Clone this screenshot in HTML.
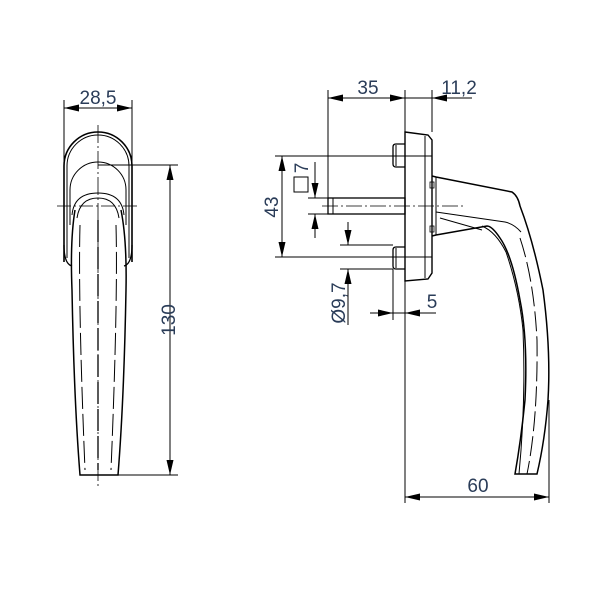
<!DOCTYPE html>
<html><head><meta charset="utf-8"><style>
html,body{margin:0;padding:0;background:#fff;}
svg{display:block;}
text{font-family:"Liberation Sans",sans-serif;font-size:19px;fill:#2a3c58;}
</style></head><body>
<svg width="600" height="600" viewBox="0 0 600 600" xmlns="http://www.w3.org/2000/svg">
<g fill="none" stroke="#000" stroke-width="1">
<!-- LEFT VIEW -->
<line x1="64" y1="100" x2="64" y2="210"/>
<line x1="132" y1="100" x2="132" y2="210"/>
<line x1="64" y1="108" x2="132" y2="108"/>
<path d="M64,262 V166 A34,34 0 0 1 132,166 V262" stroke-width="1.6"/>
<path d="M67,258 V166 A31,31 0 0 1 129,166 V258"/>
<path d="M64,245 Q64,264 72,266 M132,245 Q132,264 124,266" stroke-width="1.3"/>
<path d="M70,225 V190 A28,28 0 0 1 126,190 V225"/>
<path d="M72,215 Q74,193 98,193 Q122,193 124,215"/>
<path d="M77,218 Q80,198 98,198 Q116,198 119,218"/>
<path d="M75,210 Q70,240 72,290 Q74,400 80,475 H118 Q124,400 126,290 Q127,240 121,210" stroke-width="1.5"/>
<path d="M80,225 Q78,300 85,470 M116,225 Q118,300 111,470" stroke-dasharray="22,5"/>
<line x1="98" y1="220" x2="98" y2="470" stroke-dasharray="22,5" stroke-width="1.3"/>
<line x1="98" y1="125" x2="98" y2="487" stroke-dasharray="18,3,2,3" stroke-width="0.8"/>
<line x1="57" y1="206" x2="140" y2="206" stroke-dasharray="14,3,2,3" stroke-width="0.8"/>
<line x1="98" y1="165" x2="178" y2="165"/>
<line x1="115" y1="475" x2="178" y2="475"/>
<line x1="170" y1="165" x2="170" y2="475"/>

<!-- RIGHT VIEW -->
<path d="M405,132 L428,135 L432,140 V273 L428,279 L405,281 Z" stroke-width="1.4"/>
<line x1="425" y1="136" x2="425" y2="278"/>
<path d="M405,144 H396 Q393,144 393,147 V164 Q393,167 396,167 H405" stroke-width="1.3"/>
<path d="M405,247 H396 Q393,247 393,250 V266 Q393,269 396,269 H405" stroke-width="1.3"/>
<line x1="396" y1="145" x2="396" y2="166"/>
<line x1="396" y1="248" x2="396" y2="268"/>
<rect x="328" y="198" width="77" height="16" stroke-width="1.3"/>
<line x1="333" y1="198" x2="333" y2="214"/>
<line x1="322" y1="206" x2="465" y2="206" stroke-dasharray="16,3,2,3" stroke-width="0.8"/>
<line x1="275" y1="156" x2="432" y2="156"/>
<line x1="275" y1="257" x2="432" y2="257"/>
<line x1="282" y1="156" x2="282" y2="257"/>
<line x1="308" y1="198" x2="328" y2="198"/>
<line x1="308" y1="214" x2="328" y2="214"/>
<line x1="315" y1="162" x2="315" y2="198"/>
<line x1="315" y1="238" x2="315" y2="214"/>
<rect x="294" y="177" width="14" height="15"/>
<line x1="340" y1="245" x2="393" y2="245"/>
<line x1="340" y1="269" x2="393" y2="269"/>
<line x1="348" y1="222" x2="348" y2="245"/>
<line x1="348" y1="325" x2="348" y2="269"/>
<line x1="328" y1="90" x2="328" y2="198"/>
<line x1="405" y1="90" x2="405" y2="132"/>
<line x1="432" y1="90" x2="432" y2="132"/>
<line x1="328" y1="98" x2="472" y2="98"/>
<line x1="393" y1="269" x2="393" y2="320"/>
<line x1="405" y1="281" x2="405" y2="503"/>
<line x1="370" y1="313" x2="436" y2="313"/>
<line x1="549" y1="400" x2="549" y2="503"/>
<line x1="405" y1="497" x2="549" y2="497"/>
<path d="M432,176 L436,177 L512,192 Q518,196 520,206 Q533,240 543,290 Q551,350 548,400 Q545,440 537,474 H515 Q521,440 525,400 Q528,340 520,300 Q512,255 500,238 Q492,226 487,226 L436,235 L432,236" stroke-width="1.5"/>
<line x1="436" y1="177" x2="436" y2="235"/>
<path d="M436,212 L505,222 Q514,224 521,232"/>
<path d="M440,218 L482,230"/>
<path d="M482,226 Q496,232 506,252 Q519,290 523,330 Q526,400 519,474"/>
<path d="M520,238 Q534,280 537,340 Q538,420 527,474" stroke-dasharray="20,5"/>
<rect x="430" y="182" width="4" height="6" stroke-width="0.8"/>
<rect x="430" y="226" width="4" height="6" stroke-width="0.8"/>
</g>
<g fill="#000">
<polygon points="64,108 79,104.5 79,111.5"/>
<polygon points="132,108 117,104.5 117,111.5"/>
<polygon points="170,165 166.5,180 173.5,180"/>
<polygon points="170,475 166.5,460 173.5,460"/>
<polygon points="282,156 278.5,171 285.5,171"/>
<polygon points="282,257 278.5,242 285.5,242"/>
<polygon points="315,198 311.5,183 318.5,183"/>
<polygon points="315,214 311.5,229 318.5,229"/>
<polygon points="348,245 344.5,230 351.5,230"/>
<polygon points="348,269 344.5,284 351.5,284"/>
<polygon points="328,98 343,94.5 343,101.5"/>
<polygon points="405,98 390,94.5 390,101.5"/>
<polygon points="432,98 447,94.5 447,101.5"/>
<polygon points="393,313 378,309.5 378,316.5"/>
<polygon points="405,313 420,309.5 420,316.5"/>
<polygon points="405,497 420,493.5 420,500.5"/>
<polygon points="549,497 534,493.5 534,500.5"/>
</g>
<text x="98" y="104" text-anchor="middle">28,5</text>
<text transform="translate(175,320) rotate(-90)" text-anchor="middle">130</text>
<text x="368" y="94" text-anchor="middle">35</text>
<text x="459" y="94" text-anchor="middle">11,2</text>
<text transform="translate(278,207) rotate(-90)" text-anchor="middle">43</text>
<text transform="translate(308,168) rotate(-90)" text-anchor="middle">7</text>
<text transform="translate(345,303) rotate(-90)" text-anchor="middle">Ø9,7</text>
<text x="432" y="308" text-anchor="middle">5</text>
<text x="478" y="492" text-anchor="middle">60</text>
</svg>
</body></html>
